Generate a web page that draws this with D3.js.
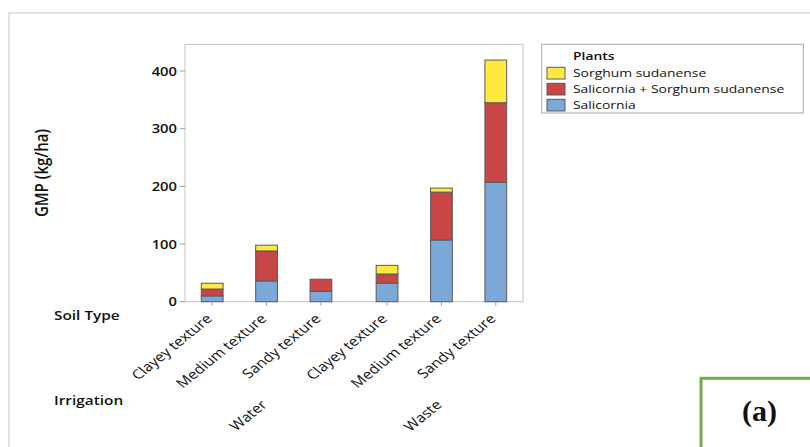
<!DOCTYPE html>
<html>
<head>
<meta charset="utf-8">
<script src="https://cdn.jsdelivr.net/npm/d3@7"></script>
<style>
  html, body { margin: 0; padding: 0; background: #fff; }
  svg { display: block; }
  text { font-family: "Open Sans", "Noto Sans", sans-serif; fill: #111; }
</style>
</head>
<body>
<svg id="chart" width="810" height="447"></svg>
<script>
// ---- data ----
const irrigation = ["Water", "Waste"];
const soilTypes = ["Clayey texture", "Medium texture", "Sandy texture"];
const seriesNames = ["Salicornia", "Salicornia + Sorghum sudanense", "Sorghum sudanense"];
const salicornia = [10, 36, 18, 32, 107, 207];
const salicorniaSorghum = [12, 52, 21, 16, 83, 138];
const sorghum = [10, 10, 0, 15, 7, 74];
const yTicks = [0, 100, 200, 300, 400];
const legendOrder = ["Sorghum sudanense", "Salicornia + Sorghum sudanense", "Salicornia"];
const seriesColors = ["#7BA7D9", "#C84646", "#FFE93F"];

// ---- layout ----
const SX = 1.23; // horizontal text stretch of the figure
const plot = { left: 185, right: 523, top: 44.3, bottom: 301.7 };

const svg = d3.select("#chart");

// rows: one per bar
const rows = [];
irrigation.forEach((irr, gi) => soilTypes.forEach((soil, si) => {
  const i = gi * soilTypes.length + si;
  rows.push({
    irrigation: irr, soil,
    "Salicornia": salicornia[i],
    "Salicornia + Sorghum sudanense": salicorniaSorghum[i],
    "Sorghum sudanense": sorghum[i]
  });
}));

const stacked = d3.stack().keys(seriesNames)(rows);
const color = d3.scaleOrdinal().domain(seriesNames).range(seriesColors);

const x0 = d3.scaleBand().domain(irrigation).range([plot.left, plot.right])
  .paddingInner(0.067).paddingOuter(0);
const x1 = d3.scaleBand().domain(soilTypes).range([0, x0.bandwidth()])
  .paddingInner(0.6).paddingOuter(0.3);
const y = d3.scaleLinear().domain([0, 446.3]).range([plot.bottom, plot.top]);

const barX = d => x0(d.irrigation) + x1(d.soil);
const barCenter = d => barX(d) + x1.bandwidth() / 2;

// outer figure frame
svg.append("path")
  .attr("d", "M9,447 V13 H810")
  .attr("fill", "none").attr("stroke", "#d9d9d9").attr("stroke-width", 1.5);

// plot frame
svg.append("rect")
  .attr("x", plot.left).attr("y", plot.top)
  .attr("width", plot.right - plot.left).attr("height", plot.bottom - plot.top)
  .attr("fill", "none").attr("stroke", "#c4c4c4").attr("stroke-width", 1);

// stacked bars
svg.append("g").selectAll("g").data(stacked).join("g")
  .attr("fill", d => color(d.key))
  .selectAll("rect").data(d => d.filter(s => s[1] - s[0] > 0)).join("rect")
  .attr("x", s => barX(s.data))
  .attr("width", x1.bandwidth())
  .attr("y", s => y(s[1]))
  .attr("height", s => y(s[0]) - y(s[1]))
  .attr("stroke", "#5a5a5a").attr("stroke-width", 1);

// y axis ticks and labels
const yAxis = svg.append("g");
yAxis.selectAll("line").data(yTicks).join("line")
  .attr("x1", plot.left - 5).attr("x2", plot.left)
  .attr("y1", d => y(d)).attr("y2", d => y(d))
  .attr("stroke", "#9a9a9a");
yAxis.selectAll("text").data(yTicks).join("text")
  .attr("transform", d => `translate(${plot.left - 8},${y(d) + 4.5}) scale(${SX},1)`)
  .attr("text-anchor", "end").attr("font-size", 12).attr("font-weight", 600)
  .text(d => d);

// x ticks and soil labels
const xAxis = svg.append("g");
xAxis.selectAll("line").data(rows).join("line")
  .attr("x1", barCenter).attr("x2", barCenter)
  .attr("y1", plot.bottom).attr("y2", plot.bottom + 4)
  .attr("stroke", "#9a9a9a");
xAxis.selectAll("text").data(rows).join("text")
  .attr("transform", d => `translate(${barCenter(d) + 1},${plot.bottom + 18}) scale(${SX},1) rotate(-45)`)
  .attr("text-anchor", "end").attr("font-size", 13)
  .text(d => d.soil);

// irrigation group labels
svg.append("g").selectAll("text").data(irrigation).join("text")
  .attr("transform", d => `translate(${x0(d) + x0.bandwidth() / 2 + 1.5},${plot.bottom + 104}) scale(${SX},1) rotate(-45)`)
  .attr("text-anchor", "end").attr("font-size", 13)
  .text(d => d);

// row headers
svg.append("text")
  .attr("transform", `translate(54,319.5) scale(${SX},1)`)
  .attr("font-size", 12.5).attr("font-weight", 600).text("Soil Type");
svg.append("text")
  .attr("transform", `translate(54,405) scale(${SX},1)`)
  .attr("font-size", 12.5).attr("font-weight", 600).text("Irrigation");

// y axis title
svg.append("text")
  .attr("transform", `translate(48,${(plot.top + plot.bottom) / 2}) scale(${SX},1) rotate(-90)`)
  .attr("text-anchor", "middle").attr("font-size", 15).attr("font-weight", 600)
  .text("GMP (kg/ha)");

// legend
const legend = svg.append("g");
legend.append("rect")
  .attr("x", 541.7).attr("y", 44.3).attr("width", 261.6).attr("height", 68.7)
  .attr("fill", "#fff").attr("stroke", "#a8a8a8");
legend.append("text")
  .attr("transform", `translate(573,60) scale(${SX},1)`)
  .attr("font-size", 11.3).attr("font-weight", 600).text("Plants");
const items = legend.selectAll("g.item").data(legendOrder).join("g")
  .attr("class", "item")
  .attr("transform", (d, i) => `translate(0,${67.3 + i * 16})`);
items.append("rect")
  .attr("x", 547).attr("y", 0).attr("width", 18).attr("height", 11.7)
  .attr("fill", d => color(d)).attr("stroke", "#5a5a5a");
items.append("text")
  .attr("transform", `translate(573,10) scale(${SX},1)`)
  .attr("font-size", 11.3).text(d => d);

// panel tag
svg.append("rect")
  .attr("x", 701).attr("y", 378.3).attr("width", 140).attr("height", 100)
  .attr("fill", "#fff").attr("stroke", "#70AD47").attr("stroke-width", 3);
svg.append("text")
  .attr("x", 759.5).attr("y", 421)
  .attr("text-anchor", "middle")
  .style("font-family", "'Liberation Serif', 'Times New Roman', serif")
  .attr("font-size", 30).attr("font-weight", 700)
  .text("(a)");
</script>
</body>
</html>
